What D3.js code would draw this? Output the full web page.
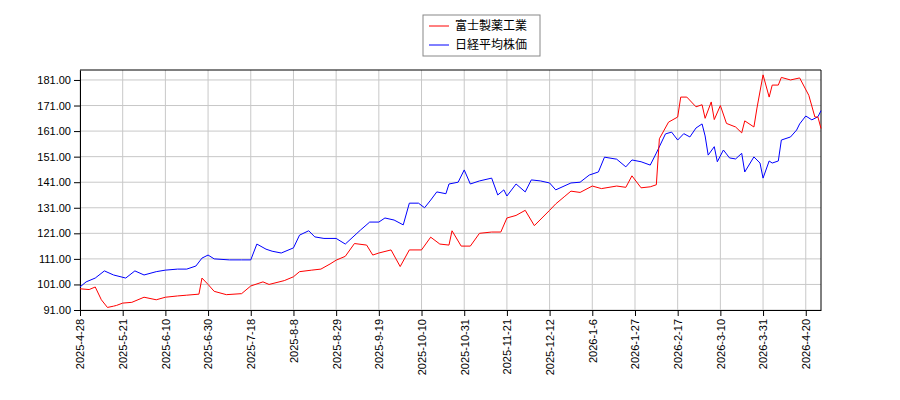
<!DOCTYPE html>
<html><head><meta charset="utf-8">
<script src="https://cdn.jsdelivr.net/npm/d3@7"></script>
<style>body{margin:0;background:#fff}</style>
</head><body><div id="chart"></div>
<script>
// trading-day index / value pairs
let redIdx = [0,3,5,7,9,11,12,14,17,21,25,28,32,35,39,40,42,44,48,53,56,60,62,67,70,72,76,79,82,84,87,90,94,96,98,102,105,108,112,115,118,121,122,125,128,131,135,138,140,143,146,149,154,156,159,161,164,168,171,176,179,181,184,187,189,190,193,196,197,199,202,204,205,207,208,210,212,215,217,218,221,222,224,226,227,229,230,233,236,239,241,242,243]
let redVal = [99.3,99,100,95,92,92.5,92.8,93.7,94,96,95,96,96.5,96.8,97.2,103.5,101,98.3,97,97.4,100.4,102,101,102.5,104,106,106.6,107,109,110.5,112,117,116.4,112.5,113.3,114.5,108,114.5,114.5,119.5,116.8,116.4,122,116,116,121,121.5,121.5,127,128,130,124,130,132.5,135.5,137.5,137,139.5,138.5,139.5,139,143.5,138.8,139.2,140,158,164.5,166.5,174.3,174.3,170.5,171.3,166,172.4,165.5,171,164,162.6,160.3,165,162.6,170,183,174.3,179,179,182,181,181.8,175,166.5,166.5,162]
let blueIdx = [0,2,5,8,11,15,18,21,25,28,32,35,38,40,42,44,49,53,56,58,61,63,66,70,72,75,77,80,84,87,92,95,98,100,103,106,108,111,113,115,117,120,121,124,126,128,131,135,137,139,140,143,146,148,151,154,156,161,164,167,170,172,176,179,181,184,187,189,192,194,196,198,200,202,204,205,206,208,209,211,213,215,217,218,221,223,224,226,227,229,230,233,235,236,238,240,242,243]
let blueVal = [100,102,103.5,106.3,104.7,103.5,106.3,104.7,106,106.6,107,107,108.2,111.3,112.5,111,110.6,110.6,110.6,116.8,114.8,114,113.3,115.3,120.3,122,119.6,119,119,116.8,122.3,125.4,125.4,127,126.2,124.3,132.8,132.8,131,134,137.2,136.5,140.3,141,145.8,140.3,141.5,142.6,136,138,135.6,140.3,137.2,141.9,141.5,140.7,138,140.7,141,143.8,145,150.8,150,147,149.7,149,147.7,152.4,159.9,160.6,157.5,160,158.7,162.2,163.8,159.1,151.6,154.9,149,153.6,150.5,150.1,152.3,145,150.9,148.5,142.6,149.3,148.5,149.3,157.5,158.7,161.4,163.8,166.9,165.4,166.6,169]
let tickLabels = ['2025-4-28','2025-5-21','2025-6-10','2025-6-30','2025-7-18','2025-8-8','2025-8-29','2025-9-19','2025-10-10','2025-10-31','2025-11-21','2025-12-12','2026-1-6','2026-1-27','2026-2-17','2026-3-10','2026-3-31','2026-4-20']
let yTicks = [91,101,111,121,131,141,151,161,171,181]
let seriesNames = ['富士製薬工業','日経平均株価']
let colors = ['#ff0000','#0000ff']

let WIDTH = 900, HEIGHT = 400
let mLeft = 80, mRight = 821, mTop = 70, mBottom = 310
let svg = d3.select('#chart').append('svg').attr('width', WIDTH).attr('height', HEIGHT)
  .style('font-family', 'DejaVu Sans, sans-serif')

let x = d3.scaleLinear().domain([0, 243]).range([mLeft, mRight])
let y = d3.scaleLinear().domain([91, 184.9]).range([mBottom, mTop])

// grid
svg.append('g').selectAll('line').data(yTicks).join('line')
  .attr('x1', mLeft).attr('x2', mRight).attr('y1', d => y(d)).attr('y2', d => y(d))
  .attr('stroke', '#c8c8c8')
svg.append('g').selectAll('line').data(tickLabels).join('line')
  .attr('x1', (d, i) => x(i * 14)).attr('x2', (d, i) => x(i * 14))
  .attr('y1', mTop).attr('y2', mBottom).attr('stroke', '#c8c8c8')

svg.append('g').attr('transform', `translate(${mLeft},0)`)
  .call(d3.axisLeft(y).tickValues(yTicks).tickFormat(d3.format('.2f')).tickSizeOuter(0))
  .call(g => g.selectAll('text').attr('font-size', 11).attr('fill', '#000'))
svg.append('g').attr('transform', `translate(0,${mBottom})`)
  .call(d3.axisBottom(x).tickValues(tickLabels.map((d, i) => i * 14)).tickFormat((d, i) => tickLabels[i]).tickSizeOuter(0))
  .call(g => g.selectAll('text').attr('font-size', 11).attr('fill', '#000')
    .attr('transform', 'rotate(-90)').attr('text-anchor', 'end').attr('x', -9).attr('y', 0).attr('dy', '0.35em'))
svg.append('line').attr('x1', mRight).attr('x2', mRight).attr('y1', mTop).attr('y2', mBottom).attr('stroke', '#000')
svg.append('line').attr('x1', mLeft).attr('x2', mRight).attr('y1', mTop).attr('y2', mTop).attr('stroke', '#000')

let line = d3.line().x(d => x(d[0])).y(d => y(d[1]))
svg.append('path').datum(d3.zip(blueIdx, blueVal)).attr('d', line).attr('fill', 'none').attr('stroke', colors[1])
svg.append('path').datum(d3.zip(redIdx, redVal)).attr('d', line).attr('fill', 'none').attr('stroke', colors[0])

// legend
let lg = svg.append('g').attr('transform', 'translate(423,15)')
lg.append('rect').attr('width', 117).attr('height', 41).attr('fill', '#fff').attr('stroke', '#888')
seriesNames.forEach((n, i) => {
  lg.append('line').attr('x1', 6).attr('x2', 26).attr('y1', 11 + i * 19).attr('y2', 11 + i * 19).attr('stroke', colors[i])
  lg.append('text').attr('x', 32).attr('y', 15 + i * 19).attr('font-size', 12)
    .attr('font-family', 'Noto Sans CJK JP').text(n)
})
</script></body></html>
